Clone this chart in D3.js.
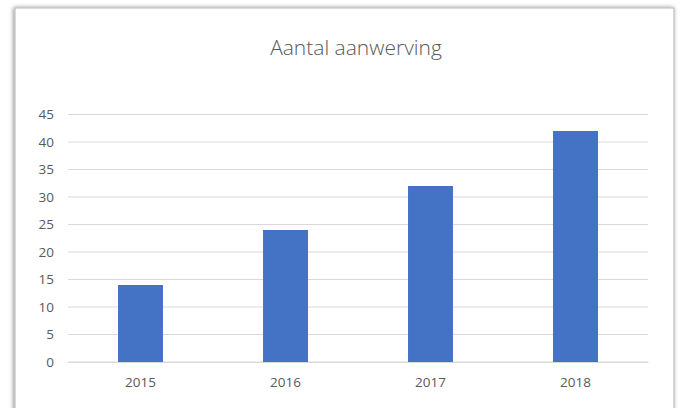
<!DOCTYPE html>
<html lang="en">
<head>
    <meta charset="UTF-8">
    <title>Aantal aanwerving</title>
    <script src="https://d3js.org/d3.v7.min.js"></script>
    <style>
        body {
            margin: 0;
            padding: 0;
            background-color: #ffffff;
            font-family: 'Open Sans', 'Noto Sans', sans-serif;
        }
        svg { display: block; }
    </style>
</head>
<body>
    <svg id="chart" width="683" height="408"></svg>
    <script>
        // chart data
        const years = ["2015", "2016", "2017", "2018"];
        const hires = [14, 24, 32, 42];
        const yTicks = [0, 5, 10, 15, 20, 25, 30, 35, 40, 45];
        const chartTitle = "Aantal aanwerving";

        const svg = d3.select("#chart");
        const plot = { left: 68, right: 648, top: 114.5, bottom: 362 };

        // soft shadow for the chart frame
        const defs = svg.append("defs");
        const filter = defs.append("filter").attr("id", "shadow")
            .attr("x", "-5%").attr("y", "-5%").attr("width", "110%").attr("height", "110%");
        filter.append("feDropShadow")
            .attr("dx", -1).attr("dy", 0).attr("stdDeviation", 2)
            .attr("flood-color", "#000").attr("flood-opacity", 0.45);

        svg.append("rect")
            .attr("x", 15).attr("y", 8)
            .attr("width", 659).attr("height", 420)
            .attr("fill", "#fff")
            .attr("stroke", "#b5b5b5")
            .attr("stroke-width", 1)
            .attr("filter", "url(#shadow)");

        const x = d3.scaleBand()
            .domain(years)
            .range([plot.left, plot.right])
            .paddingInner(0.69)
            .paddingOuter(0.345);

        const y = d3.scaleLinear()
            .domain([0, 45])
            .range([plot.bottom, plot.top]);

        // gridlines
        svg.append("g")
            .selectAll("line")
            .data(yTicks)
            .join("line")
            .attr("x1", plot.left).attr("x2", plot.right)
            .attr("y1", d => y(d)).attr("y2", d => y(d))
            .attr("stroke", "#d9d9d9")
            .attr("stroke-width", 1);

        // y axis labels
        const yAxis = svg.append("g")
            .attr("transform", `translate(${plot.left},0)`)
            .call(d3.axisLeft(y).tickValues(yTicks).tickSize(0).tickPadding(14));
        yAxis.select(".domain").remove();
        yAxis.selectAll("text")
            .attr("fill", "#595959")
            .style("font-size", "13.5px")
            .style("font-family", "'Open Sans', sans-serif");

        // bars
        svg.append("g")
            .selectAll("rect")
            .data(years.map((yr, i) => ({ yr, v: hires[i] })))
            .join("rect")
            .attr("x", d => x(d.yr))
            .attr("y", d => y(d.v))
            .attr("width", x.bandwidth())
            .attr("height", d => y(0) - y(d.v))
            .attr("fill", "#4472c4");

        // x axis
        const xAxis = svg.append("g")
            .attr("transform", `translate(0,${plot.bottom})`)
            .call(d3.axisBottom(x).tickSize(0).tickPadding(15));
        xAxis.select(".domain").attr("stroke", "#d9d9d9");
        xAxis.selectAll("text")
            .attr("fill", "#595959")
            .style("font-size", "13.5px")
            .style("font-family", "'Open Sans', sans-serif");

        // title
        svg.append("text")
            .attr("x", 356)
            .attr("y", 55)
            .attr("text-anchor", "middle")
            .attr("fill", "#595959")
            .style("font-size", "21px")
            .style("font-family", "'Open Sans', sans-serif")
            .style("font-weight", 300)
            .text(chartTitle);
    </script>
</body>
</html>
